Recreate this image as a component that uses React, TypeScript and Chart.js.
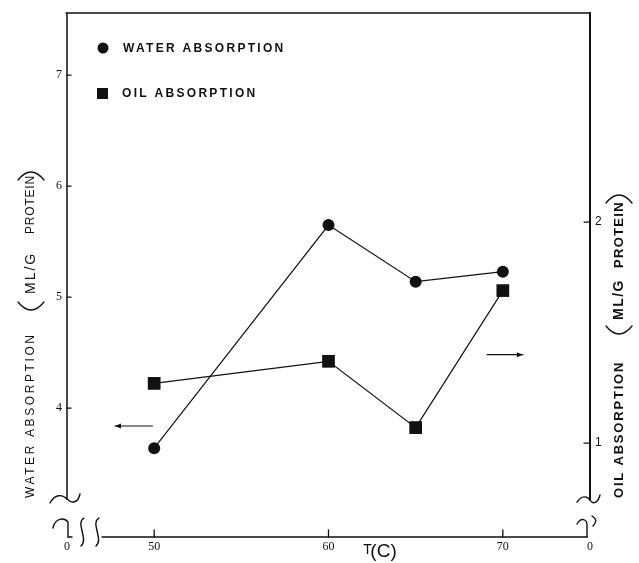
import React, { useEffect, useRef } from "react";
import { Chart, registerables } from "chart.js";

Chart.register(...registerables);

// ---- data ----
const temperatures = [50, 60, 65, 70];
const waterAbsorption = [3.64, 5.65, 5.14, 5.23];
const oilAbsorption = [1.27, 1.37, 1.07, 1.69];
const xTickValues = [45, 50, 60, 70, 75];
const xTickLabels = ["0", "50", "60", "70", "0"];
const waterTicks = [4, 5, 6, 7];
const oilTicks = [1, 2];
const seriesLabels = ["WATER ABSORPTION", "OIL ABSORPTION"];

const INK = "#111";
const SANS = '"Liberation Sans", Arial, sans-serif';
const SERIF = '"Liberation Serif", "Times New Roman", serif';

function drawRot(ctx: CanvasRenderingContext2D, text: string, font: string, ls: number, cx: number, yStart: number) {
  ctx.save();
  ctx.translate(cx, yStart);
  ctx.rotate(-Math.PI / 2);
  ctx.font = font;
  (ctx as any).letterSpacing = ls + "px";
  ctx.textAlign = "left";
  ctx.textBaseline = "middle";
  ctx.fillText(text, 0, 0);
  ctx.restore();
}

function drawText(ctx: CanvasRenderingContext2D, text: string, font: string, ls: number, x: number, y: number) {
  ctx.save();
  ctx.font = font;
  (ctx as any).letterSpacing = ls + "px";
  ctx.textAlign = "left";
  ctx.textBaseline = "middle";
  ctx.fillText(text, x, y);
  ctx.restore();
}

// rotated parenthesis drawn as an arc: open = true for "(" (opens upward on screen)
function paren(ctx: CanvasRenderingContext2D, cx: number, yEnd: number, open: boolean, w = 13, depth = 16) {
  ctx.save();
  ctx.lineWidth = 1.3;
  ctx.beginPath();
  ctx.moveTo(cx - w, yEnd);
  ctx.quadraticCurveTo(cx, yEnd + (open ? depth : -depth), cx + w, yEnd);
  ctx.stroke();
  ctx.restore();
}

const decorPlugin = {
  id: "decor",
  afterDraw(chart: any) {
    const { ctx, chartArea: a, scales } = chart;
    const xs = scales.x, yL = scales.y, yR = scales.y1;
    const L = a.left, R = a.right, T = a.top, B = a.bottom;
    const by = B - 40;
    ctx.save();
    ctx.strokeStyle = INK;
    ctx.fillStyle = INK;
    ctx.lineCap = "round";

    // frame lines
    ctx.lineWidth = 1.5;
    ctx.beginPath();
    ctx.moveTo(L - 1, T); ctx.lineTo(R, T);
    ctx.moveTo(L, T); ctx.lineTo(L, by + 2);
    ctx.moveTo(L + 35, B); ctx.lineTo(R - 3, B);
    ctx.stroke();
    ctx.lineWidth = 2;
    ctx.beginPath();
    ctx.moveTo(R, T); ctx.lineTo(R, by + 3);
    ctx.stroke();

    // break marks
    ctx.lineWidth = 1.4;
    ctx.beginPath();
    ctx.moveTo(L - 17, by + 6);
    ctx.bezierCurveTo(L - 12, by - 3, L - 5, by - 3, L, by + 2);
    ctx.bezierCurveTo(L + 5, by + 7, L + 11, by + 6, L + 13, by - 3);
    ctx.moveTo(R - 13, by + 5);
    ctx.bezierCurveTo(R - 8, by - 2, R - 3, by - 1, R, by + 3);
    ctx.bezierCurveTo(R + 3, by + 8, R + 8, by + 6, R + 10, by - 2);
    ctx.moveTo(L - 14, B - 9);
    ctx.bezierCurveTo(L - 12, B - 19, L - 3, B - 20, L + 1, B - 15);
    ctx.lineTo(L + 1, B);
    ctx.lineTo(L + 5, B);
    for (const cx of [L + 15, L + 30]) {
      ctx.moveTo(cx + 2, B - 19);
      ctx.bezierCurveTo(cx - 7, B - 14, cx + 7, B + 2, cx - 1, B + 9);
    }
    ctx.moveTo(R - 13, B - 13);
    ctx.bezierCurveTo(R - 9, B - 20, R - 3, B - 18, R - 3, B - 12);
    ctx.lineTo(R - 3, B);
    ctx.moveTo(R + 2, B - 21);
    ctx.quadraticCurveTo(R + 9, B - 17, R + 3, B - 11);
    ctx.stroke();

    // tick marks (inward)
    ctx.lineWidth = 1.3;
    ctx.beginPath();
    for (const v of waterTicks) {
      const py = yL.getPixelForValue(v);
      ctx.moveTo(L, py); ctx.lineTo(L + 4, py);
    }
    for (const v of oilTicks) {
      const py = yR.getPixelForValue(v);
      ctx.moveTo(R - 6, py); ctx.lineTo(R, py);
    }
    for (const v of xTickValues.slice(1, 4)) {
      const px = xs.getPixelForValue(v);
      ctx.moveTo(px, B - 7); ctx.lineTo(px, B);
    }
    ctx.stroke();

    // arrows
    const arrow = (x1: number, x2: number, y: number) => {
      ctx.lineWidth = 1.2;
      ctx.beginPath();
      ctx.moveTo(x1, y); ctx.lineTo(x2, y);
      ctx.stroke();
      const d = Math.sign(x2 - x1);
      ctx.beginPath();
      ctx.moveTo(x2, y);
      ctx.lineTo(x2 - d * 6, y - 2.5);
      ctx.lineTo(x2 - d * 6, y + 2.5);
      ctx.closePath();
      ctx.fill();
    };
    arrow(xs.getPixelForValue(49.9), xs.getPixelForValue(47.75), yL.getPixelForValue(3.84));
    arrow(xs.getPixelForValue(69.1), xs.getPixelForValue(71.15), yR.getPixelForValue(1.40));

    // legend
    const lx = L + 36;
    ctx.beginPath();
    ctx.arc(lx, T + 35, 5.5, 0, Math.PI * 2);
    ctx.fill();
    ctx.fillRect(lx - 6, T + 75, 11, 11);
    drawText(ctx, seriesLabels[0], `bold 12px ${SANS}`, 2.3, L + 56, T + 36);
    drawText(ctx, seriesLabels[1], `bold 12px ${SANS}`, 2.3, L + 55, T + 81);

    // x title
    const tx = xs.getPixelForValue(62);
    ctx.save();
    ctx.textAlign = "left";
    ctx.textBaseline = "alphabetic";
    ctx.font = `14px ${SANS}`;
    ctx.fillText("T", tx, B + 17);
    ctx.font = `19px ${SANS}`;
    ctx.fillText("(C)", tx + 7, B + 20);
    ctx.restore();

    // left axis title
    drawRot(ctx, "WATER ABSORPTION", `12px ${SANS}`, 2.6, 31, 498);
    paren(ctx, 31, 302, true);
    drawRot(ctx, "ML/G", `14px ${SANS}`, 2, 31, 294);
    drawRot(ctx, "PROTEIN", `12px ${SANS}`, 0.8, 31, 234);
    paren(ctx, 31, 180, false);

    // right axis title
    drawRot(ctx, "OIL ABSORPTION", `bold 13px ${SANS}`, 1.8, 619, 498);
    paren(ctx, 619, 326, true);
    drawRot(ctx, "ML/G", `bold 14px ${SANS}`, 1.5, 619, 320);
    drawRot(ctx, "PROTEIN", `bold 13px ${SANS}`, 1.3, 619, 268);
    paren(ctx, 619, 203, false);

    ctx.restore();
  },
};

export default function App() {
  const ref = useRef<HTMLCanvasElement | null>(null);

  useEffect(() => {
    if (!ref.current) return;
    const chart = new Chart(ref.current, {
      type: "line",
      data: {
        datasets: [
          {
            label: seriesLabels[0],
            data: temperatures.map((t, i) => ({ x: t, y: waterAbsorption[i] })),
            yAxisID: "y",
            borderColor: INK,
            borderWidth: 1.2,
            backgroundColor: INK,
            pointStyle: "circle",
            pointRadius: 6,
            pointBorderWidth: 0,
            pointBackgroundColor: INK,
            tension: 0,
          },
          {
            label: seriesLabels[1],
            data: temperatures.map((t, i) => ({ x: t, y: oilAbsorption[i] })),
            yAxisID: "y1",
            borderColor: INK,
            borderWidth: 1.2,
            backgroundColor: INK,
            pointStyle: "rect",
            pointRadius: 9,
            pointBorderWidth: 0,
            pointBackgroundColor: INK,
            tension: 0,
          },
        ],
      },
      options: {
        responsive: false,
        animation: false,
        devicePixelRatio: 1,
        layout: { padding: { top: 13, left: 0, right: 0, bottom: 0 } },
        plugins: { legend: { display: false }, tooltip: { enabled: false } },
        scales: {
          x: {
            type: "linear",
            position: "bottom",
            min: 45,
            max: 75,
            afterBuildTicks: (s: any) => {
              s.ticks = xTickValues.map((v) => ({ value: v }));
            },
            afterFit: (s: any) => {
              s.height = 26;
            },
            grid: { display: false, drawTicks: false },
            border: { display: false },
            ticks: {
              autoSkip: false,
              maxRotation: 0,
              padding: 3,
              color: INK,
              font: { family: SERIF, size: 12 },
              callback: (_v: any, i: number) => xTickLabels[i],
            },
          },
          y: {
            type: "linear",
            position: "left",
            min: 2.84,
            max: 7.56,
            afterBuildTicks: (s: any) => {
              s.ticks = waterTicks.map((v) => ({ value: v }));
            },
            afterFit: (s: any) => {
              s.width = 67;
            },
            grid: { display: false, drawTicks: false },
            border: { display: false },
            ticks: { padding: 5, color: INK, font: { family: SERIF, size: 12 } },
          },
          y1: {
            type: "linear",
            position: "right",
            min: 0.575,
            max: 2.946,
            afterBuildTicks: (s: any) => {
              s.ticks = oilTicks.map((v) => ({ value: v }));
            },
            afterFit: (s: any) => {
              s.width = 49;
            },
            grid: { display: false, drawTicks: false },
            border: { display: false },
            ticks: { padding: 5, color: INK, font: { family: SANS, size: 12 } },
          },
        },
      },
      plugins: [decorPlugin],
    } as any);
    return () => chart.destroy();
  }, []);

  return (
    <div style={{ position: "absolute", left: 0, top: 0, width: 639, height: 563, background: "#fff" }}>
      <canvas ref={ref} width={639} height={563} style={{ display: "block" }} />
    </div>
  );
}
